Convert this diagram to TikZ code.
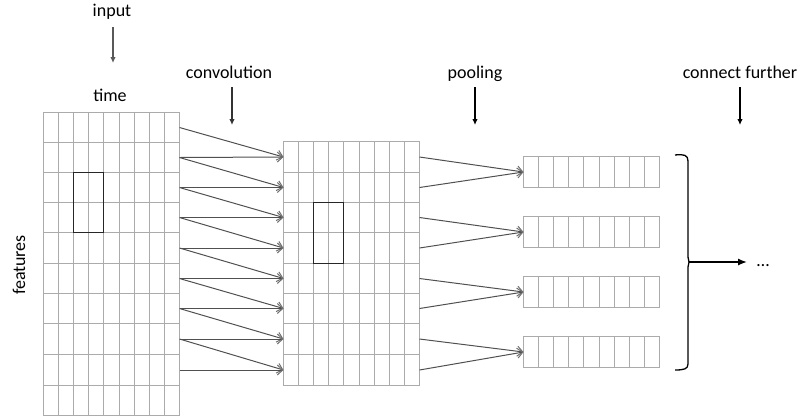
\documentclass[tikz,border=0pt]{standalone}
\usepackage{fontspec}
\setmainfont{Carlito}
\usetikzlibrary{arrows.meta,calc}

\definecolor{gridgray}{HTML}{ABABAB}
\definecolor{linegray}{HTML}{505050}
\definecolor{tipgray}{HTML}{707070}
\definecolor{labgray}{HTML}{595959}

\tikzset{
  % one row of nine cells
  cellrow/.style={draw=gridgray, line width=1pt, minimum width=136pt,
    minimum height=#1, inner sep=0pt, outer sep=0pt, anchor=north west,
    path picture={
      \foreach \k in {15,30,45,60,76,91,106,121}{
        \draw[gridgray, line width=1pt]
          ([xshift=\k pt]path picture bounding box.south west) --
          ([xshift=\k pt]path picture bounding box.north west);
      }}},
  window/.style={draw=black!85, line width=1.4pt},
  flow/.style={draw=linegray, line width=1pt,
    -{Straight Barb[length=5.5pt,width=10pt,color=tipgray,line width=1pt]}},
  lbl/.style={font=\fontsize{18}{20}\selectfont, inner sep=0pt, anchor=base},
  labarrow/.style={line width=1.3pt, -{Latex[length=6pt,width=5.5pt]}},
  bracearrow/.style={draw=black, line width=1.4pt, -{Latex[length=9pt,width=7pt]}},
}

\begin{document}
\begin{tikzpicture}[x=1pt, y=-1pt]
\useasboundingbox (0,0) rectangle (799,416);

% input grid: 10 rows (index/top/height)
\foreach \i/\t/\h in {1/112/30, 2/142/30, 3/172/30, 4/202/30, 5/232/31,
                      6/263/30, 7/293/30, 8/323/31, 9/354/31, 10/385/30}
  \node[cellrow=\h pt] (L\i) at (43.5, \t.5) {};
% convolution output: 8 rows
\foreach \i/\t/\h in {1/141/31, 2/172/30, 3/202/30, 4/232/31,
                      5/263/30, 6/293/30, 7/323/31, 8/354/31}
  \node[cellrow=\h pt] (M\i) at (283.5, \t.5) {};
% pooled rows
\foreach \i/\t in {1/156, 2/216, 3/276, 4/336}
  \node[cellrow=31pt] (P\i) at (523.5, \t.5) {};

% kernel windows (columns 3-4, two rows)
\draw[window] ([xshift=30pt]L3.north west) rectangle ([xshift=60pt]L4.south west);
\draw[window] ([xshift=30pt]M3.north west) rectangle ([xshift=60pt]M4.south west);

% convolution connections
\foreach \i [evaluate=\i as \j using int(\i+1)] in {1,...,8}{
  \draw[flow] (L\i.east) -- (M\i.west);
  \draw[flow] (L\j.east) -- (M\i.west);
}

% pooling connections
\foreach \k [evaluate=\k as \a using int(2*\k-1), evaluate=\k as \b using int(2*\k)] in {1,...,4}{
  \draw[flow] (M\a.east) -- (P\k.west);
  \draw[flow] (M\b.east) -- (P\k.west);
}

% labels
\node[lbl] (input) at (112,16) {input};
\node[lbl] (time) at (110,101) {time};
\node[lbl] (conv) at (229,78) {convolution};
\node[lbl] (pool) at (475,78) {pooling};
\node[lbl] (further) at (740,78) {connect further};
\node[lbl, rotate=90] (feat) at (25,265) {features};
\node[lbl] (dots) at (763,266) {…};

% label arrows
\coordinate (inA) at (113,27);   \coordinate (inB) at (113,63);
\coordinate (cvA) at (232,87);   \coordinate (cvB) at (232,125);
\coordinate (plA) at (475,87);   \coordinate (plB) at (475,125);
\coordinate (cfA) at (740,87);   \coordinate (cfB) at (740,125);
\draw[labarrow, labgray] (inA) -- (inB);
\draw[labarrow, black!80] (cvA) -- (cvB);
\draw[labarrow, black] (plA) -- (plB);
\draw[labarrow, black] (cfA) -- (cfB);

% brace over the pooled rows
\coordinate (btip) at (689,262);
\draw[black, line width=1.3pt]
  (675,155) .. controls (684,154) and (688,155) .. (688,161)
  -- (688,257) .. controls (688,260) .. (689,262)
  .. controls (688,264) .. (688,267)
  -- (688,364) .. controls (688,369) and (684,370) .. (675,370);
\coordinate (bend) at (747,262);
\draw[bracearrow] (btip) -- (bend);

\end{tikzpicture}
\end{document}
